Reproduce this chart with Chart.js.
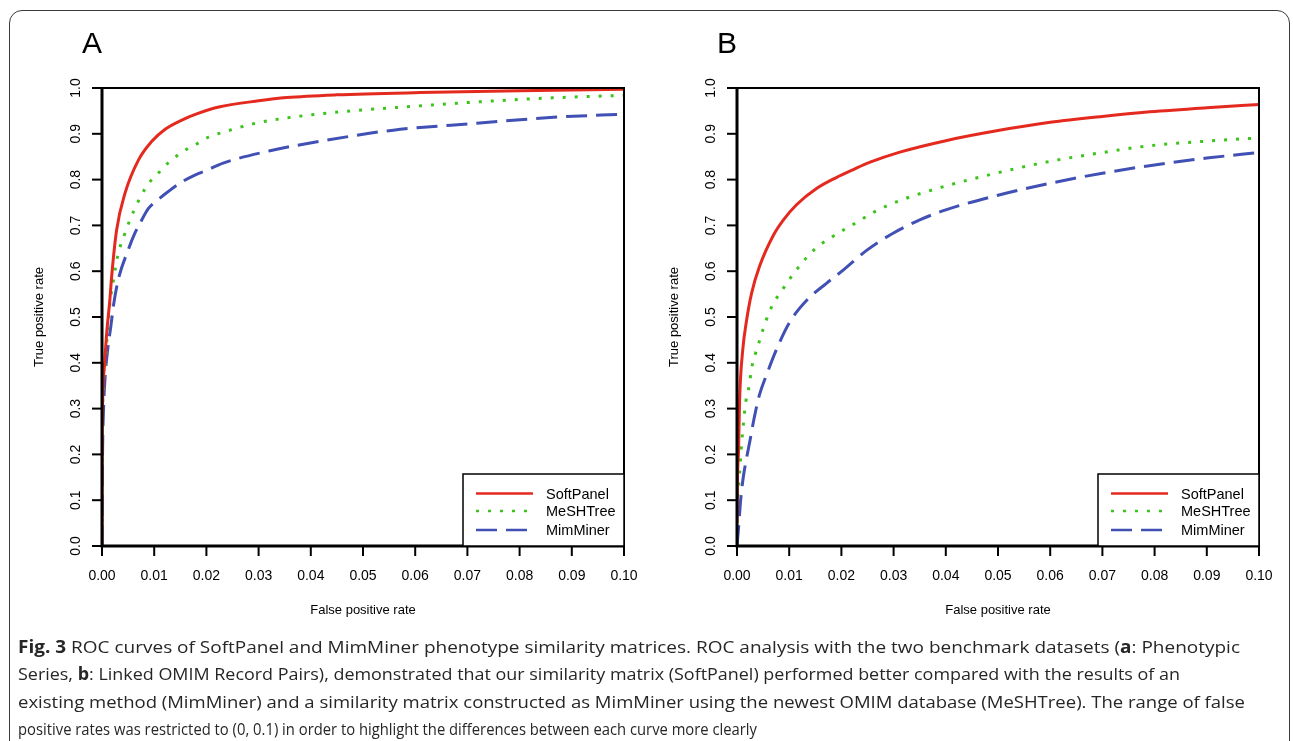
<!DOCTYPE html>
<html><head><meta charset="utf-8">
<script src="https://cdn.jsdelivr.net/npm/chart.js@4.4.1/dist/chart.umd.min.js"></script>
<style>
html,body{margin:0;padding:0;background:#fff;width:1293px;height:741px;overflow:hidden;position:relative;}
#frame{position:absolute;left:9px;top:10px;width:1281px;height:790px;border:1.5px solid #3a3a3a;border-radius:13px;box-sizing:border-box;}
.cv{position:absolute;top:0;}
.cap{position:absolute;left:18px;white-space:nowrap;font-family:"Open Sans","Noto Sans",sans-serif;font-size:17px;color:#262626;transform-origin:0 50%;line-height:20px;}
</style></head>
<body>
<div id="frame"></div>
<canvas id="cA" class="cv" width="640" height="741" style="left:0px;width:640px;height:741px"></canvas>
<canvas id="cB" class="cv" width="658" height="741" style="left:635px;width:658px;height:741px"></canvas>
<div class="cap" id="l1" style="top:637px"><b>Fig. 3</b> ROC curves of SoftPanel and MimMiner phenotype similarity matrices. ROC analysis with the two benchmark datasets (<b>a</b>: Phenotypic</div>
<div class="cap" id="l2" style="top:664px">Series, <b>b</b>: Linked OMIM Record Pairs), demonstrated that our similarity matrix (SoftPanel) performed better compared with the results of an</div>
<div class="cap" id="l3" style="top:692px">existing method (MimMiner) and a similarity matrix constructed as MimMiner using the newest OMIM database (MeSHTree). The range of false</div>
<div class="cap" id="l4" style="top:719px">positive rates was restricted to (0, 0.1) in order to highlight the differences between each curve more clearly</div>
<script>
// ---- tick labels ----
const xTickLabels = ['0.00','0.01','0.02','0.03','0.04','0.05','0.06','0.07','0.08','0.09','0.10'];
const yTickLabels = ['0.0','0.1','0.2','0.3','0.4','0.5','0.6','0.7','0.8','0.9','1.0'];
const seriesNames = ['SoftPanel','MeSHTree','MimMiner'];

// ---- Panel A (Phenotypic Series) ----
const aSoftFpr = [0, 0.00003, 0.0001, 0.00045, 0.0009, 0.0015, 0.0019, 0.0028, 0.0044, 0.0070, 0.0095, 0.0121, 0.0153, 0.0180, 0.0226, 0.0300, 0.0354, 0.0450, 0.0609, 0.0800, 0.1000];
const aSoftTpr = [0, 0.20, 0.30, 0.39, 0.465, 0.537, 0.595, 0.690, 0.770, 0.843, 0.883, 0.910, 0.930, 0.943, 0.959, 0.972, 0.979, 0.985, 0.990, 0.994, 0.997];
const aMeshFpr = [0, 0.00003, 0.00006, 0.00025, 0.0006, 0.0011, 0.0015, 0.0022, 0.0030, 0.0044, 0.0061, 0.0082, 0.0096, 0.0112, 0.0128, 0.0146, 0.0165, 0.0186, 0.0206, 0.0228, 0.0294, 0.0363, 0.0456, 0.0571, 0.0711, 0.0852, 0.1000];
const aMeshTpr = [0, 0.15, 0.24, 0.345, 0.40, 0.475, 0.528, 0.581, 0.633, 0.683, 0.732, 0.779, 0.801, 0.819, 0.838, 0.854, 0.868, 0.881, 0.894, 0.902, 0.923, 0.936, 0.948, 0.958, 0.969, 0.978, 0.984];
const aMimFpr = [0, 0.00005, 0.0001, 0.0003, 0.0006, 0.0011, 0.0017, 0.0022, 0.0031, 0.0050, 0.0063, 0.0073, 0.0089, 0.0105, 0.0127, 0.0153, 0.0178, 0.0204, 0.0232, 0.0322, 0.0430, 0.0558, 0.0718, 0.0865, 0.1000];
const aMimTpr = [0, 0.12, 0.20, 0.30, 0.37, 0.43, 0.48, 0.525, 0.581, 0.646, 0.683, 0.705, 0.737, 0.754, 0.774, 0.795, 0.810, 0.822, 0.836, 0.863, 0.886, 0.908, 0.923, 0.936, 0.943];

// ---- Panel B (Linked OMIM Record Pairs) ----
const bSoftFpr = [0, 0.0001, 0.0003, 0.0005, 0.0011, 0.0018, 0.0028, 0.0043, 0.0070, 0.0089, 0.0114, 0.0153, 0.0191, 0.0223, 0.0255, 0.0312, 0.0400, 0.0500, 0.0600, 0.0700, 0.0791, 0.0900, 0.1000];
const bSoftTpr = [0.05, 0.15, 0.21, 0.319, 0.428, 0.49, 0.552, 0.610, 0.679, 0.712, 0.745, 0.781, 0.805, 0.822, 0.838, 0.860, 0.885, 0.907, 0.925, 0.938, 0.948, 0.957, 0.964];
const bMeshFpr = [0, 0.0003, 0.0005, 0.0008, 0.0012, 0.0017, 0.0022, 0.0029, 0.0035, 0.0042, 0.0049, 0.0065, 0.0089, 0.0116, 0.0146, 0.0185, 0.0224, 0.0264, 0.0307, 0.0400, 0.0500, 0.0600, 0.0700, 0.0791, 0.0900, 0.1000];
const bMeshTpr = [0.08, 0.13, 0.159, 0.211, 0.264, 0.316, 0.342, 0.394, 0.419, 0.444, 0.47, 0.519, 0.563, 0.606, 0.645, 0.677, 0.703, 0.730, 0.752, 0.786, 0.815, 0.840, 0.859, 0.874, 0.884, 0.891];
const bMimFpr = [0, 0.0003, 0.0007, 0.0012, 0.0018, 0.0025, 0.0033, 0.0043, 0.0057, 0.0076, 0.0100, 0.0134, 0.0172, 0.0204, 0.0249, 0.0299, 0.0350, 0.0400, 0.0500, 0.0600, 0.0700, 0.0800, 0.0900, 0.1000];
const bMimTpr = [0, 0.04, 0.10, 0.15, 0.19, 0.231, 0.28, 0.33, 0.375, 0.43, 0.487, 0.537, 0.574, 0.603, 0.646, 0.683, 0.712, 0.734, 0.766, 0.792, 0.814, 0.832, 0.847, 0.859];

const styles = [
  {color:'#e42a1f', dash:[]},
  {color:'#3cc41c', dash:[3,9]},
  {color:'#4050b4', dash:[21,9]}
];
const FONT = '"Liberation Sans", Arial, Helvetica, sans-serif';

function pts(xs, ys){ return xs.map((x,i)=>({x:x, y:ys[i]})); }

function rPlot(letter){
  return {
    id:'rplot'+letter,
    afterDatasetsDraw(chart){
      const ctx = chart.ctx, ca = chart.chartArea;
      const xs = chart.scales.x, ys = chart.scales.y;
      ctx.save();
      ctx.fillStyle = '#000'; ctx.strokeStyle = '#000';
      ctx.lineWidth = 2;
      ctx.strokeRect(ca.left, ca.top, ca.right-ca.left, ca.bottom-ca.top);
      ctx.lineWidth = 3;
      ctx.beginPath();
      ctx.moveTo(ca.left, ca.top-1); ctx.lineTo(ca.left, ca.bottom);
      ctx.lineTo(ca.right+1, ca.bottom);
      ctx.stroke();
      ctx.lineWidth = 2;
      ctx.font = '14px ' + FONT;
      ctx.textAlign = 'center'; ctx.textBaseline = 'alphabetic';
      xTickLabels.forEach(l=>{
        const px = xs.getPixelForValue(parseFloat(l));
        ctx.beginPath(); ctx.moveTo(px, ca.bottom); ctx.lineTo(px, ca.bottom+10); ctx.stroke();
        ctx.fillText(l, px, ca.bottom+34);
      });
      yTickLabels.forEach(l=>{
        const py = ys.getPixelForValue(parseFloat(l));
        ctx.beginPath(); ctx.moveTo(ca.left-10, py); ctx.lineTo(ca.left, py); ctx.stroke();
        ctx.save(); ctx.translate(ca.left-22, py); ctx.rotate(-Math.PI/2);
        ctx.fillText(l, 0, 0); ctx.restore();
      });
      ctx.font = '13px ' + FONT;
      ctx.fillText('False positive rate', (ca.left+ca.right)/2, ca.bottom+68);
      ctx.save(); ctx.translate(ca.left-59, (ca.top+ca.bottom)/2); ctx.rotate(-Math.PI/2);
      ctx.fillText('True positive rate', 0, 0); ctx.restore();
      ctx.font = '30px ' + FONT; ctx.textAlign = 'left';
      ctx.fillText(letter, ca.left-20, 53);
      const lx = ca.right-161, ly = ca.bottom-72;
      ctx.fillStyle = '#fff';
      ctx.fillRect(lx, ly, 161, 72);
      ctx.lineWidth = 1.5; ctx.strokeStyle = '#000';
      ctx.strokeRect(lx, ly, 161, 72);
      ctx.font = '14.5px ' + FONT; ctx.textBaseline = 'middle';
      const rows = [19.5, 37, 56];
      chart.data.datasets.forEach((ds,i)=>{
        const y = ly + rows[i];
        ctx.strokeStyle = ds.borderColor; ctx.lineWidth = 2.5;
        ctx.setLineDash(ds.borderDash || []);
        ctx.beginPath(); ctx.moveTo(lx+13, y); ctx.lineTo(lx+70, y); ctx.stroke();
        ctx.setLineDash([]);
        ctx.fillStyle = '#000';
        ctx.fillText(ds.label, lx+83, y+1);
      });
      ctx.restore();
    }
  };
}

function makeChart(id, letter, series, padRight){
  const datasets = series.map((s,i)=>({
    label: seriesNames[i],
    data: pts(s[0], s[1]),
    borderColor: styles[i].color,
    borderDash: styles[i].dash,
    borderWidth: 3,
    borderCapStyle: 'butt',
    pointRadius: 0,
    fill: false,
    cubicInterpolationMode: 'monotone'
  }));
  return new Chart(document.getElementById(id), {
    type:'line',
    data:{datasets},
    options:{
      responsive:false, animation:false, events:[],
      layout:{padding:{left:0, right:padRight, top:88, bottom:135}},
      plugins:{legend:{display:false}, tooltip:{enabled:false}},
      scales:{
        x:{type:'linear', min:0, max:0.1, ticks:{display:false}, grid:{display:false}, border:{display:false},
           afterFit(s){ s.height = 60; }},
        y:{type:'linear', min:0, max:1, ticks:{display:false}, grid:{display:false}, border:{display:false},
           afterFit(s){ s.width = 102; }}
      }
    },
    plugins:[rPlot(letter)]
  });
}

makeChart('cA','A',[[aSoftFpr,aSoftTpr],[aMeshFpr,aMeshTpr],[aMimFpr,aMimTpr]], 16);
makeChart('cB','B',[[bSoftFpr,bSoftTpr],[bMeshFpr,bMeshTpr],[bMimFpr,bMimTpr]], 34);

// caption: each line fitted horizontally to the reference line extent
function fitCaption(){
  const targets = {l1:1222, l2:1162, l3:1227, l4:739};
  Object.keys(targets).forEach(k=>{
    const el = document.getElementById(k);
    el.style.transform = 'none';
    const w = el.getBoundingClientRect().width;
    if (w > 0) el.style.transform = 'scaleX(' + (targets[k]/w) + ')';
  });
}
fitCaption();
if (document.fonts && document.fonts.ready) document.fonts.ready.then(fitCaption);
</script>
</body></html>
